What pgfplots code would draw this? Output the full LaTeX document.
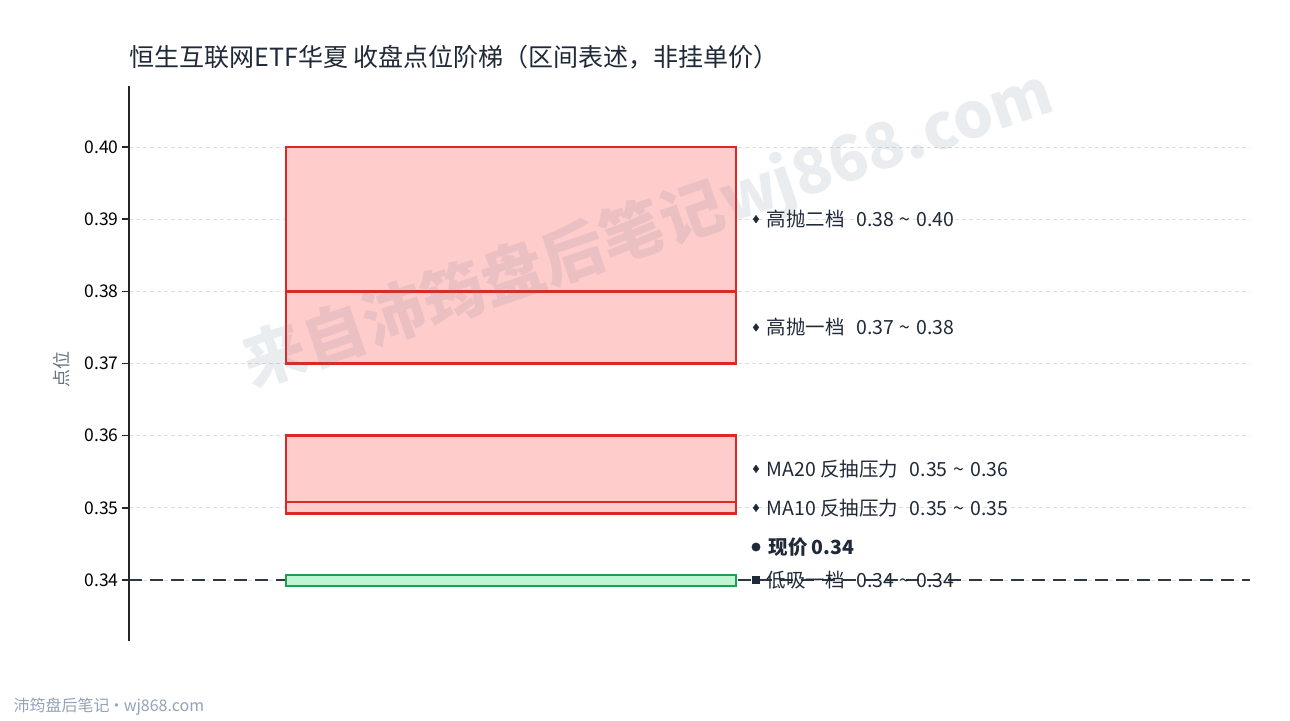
\documentclass[border=0pt]{standalone}
\usepackage{fontspec}
\setmainfont{Noto Sans CJK SC}
\usepackage{pgfplots}
\pgfplotsset{compat=1.18}
\definecolor{boxred}{RGB}{222,40,40}
\definecolor{fillred}{RGB}{255,204,204}
\definecolor{boxgreen}{RGB}{30,160,80}
\definecolor{fillgreen}{RGB}{190,245,210}
\definecolor{ink}{RGB}{31,41,55}
\definecolor{slate}{RGB}{45,55,72}
\definecolor{muted}{RGB}{107,114,128}
\definecolor{foot}{RGB}{148,163,184}
\definecolor{wmark}{RGB}{100,116,139}

\newcommand{\rng}[2]{#1\hspace{0.3em}\textasciitilde\hspace{0.3em}#2}

\begin{document}
\begin{tikzpicture}
\fill[white] (0,0) rectangle (1290pt,720pt);
\path[use as bounding box] (0,0) rectangle (1290pt,720pt);

\node[anchor=west, text=ink, font=\fontsize{25}{27}\selectfont]
  at (126pt,663pt) {恒生互联网ETF华夏 收盘点位阶梯（区间表述，非挂单价）};
\node[rotate=90, text=muted, font=\fontsize{18}{20}\selectfont]
  at (62pt,350pt) {点位};
\node[anchor=west, text=foot, font=\fontsize{16}{18}\selectfont]
  at (10pt,13pt) {沛筠盘后笔记\hspace{-0.05em}·\hspace{-0.05em}wj868.com};

\begin{axis}[
  at={(129pt,79pt)}, anchor=south west,
  scale only axis, width=1121pt, height=555pt,
  xmin=0, xmax=1121, ymin=0.33155, ymax=0.40845,
  axis x line=none, axis y line*=left,
  axis line style={line width=1.8pt, black!85, -},
  xtick=\empty,
  ytick={0.34,0.35,0.36,0.37,0.38,0.39,0.40},
  yticklabel style={/pgf/number format/.cd, fixed, fixed zerofill, precision=2,
    assume math mode=true},
  ticklabel style={font=\fontsize{17.5}{19}\selectfont, text=black},
  tick align=outside, major tick length=7pt,
  tick style={line width=1.6pt, black!85},
  ymajorgrids,
  grid style={dash pattern=on 4pt off 3pt, gray!25, line width=0.8pt},
  clip=false,
]
% current price line
\addplot[slate, line width=2.8pt, dash pattern=on 13pt off 8pt]
  coordinates {(0,0.34) (1121,0.34)};

% zones
\addplot[draw=boxred, fill=fillred, line width=2.5pt]
  coordinates {(157,0.38) (607,0.38) (607,0.40) (157,0.40)} -- cycle;
\addplot[draw=boxred, fill=fillred, line width=2.5pt]
  coordinates {(157,0.37) (607,0.37) (607,0.38) (157,0.38)} -- cycle;
\addplot[draw=boxred, fill=fillred, line width=2.5pt]
  coordinates {(157,0.3508) (607,0.3508) (607,0.36) (157,0.36)} -- cycle;
\addplot[draw=boxred, fill=fillred, line width=2.5pt]
  coordinates {(157,0.3492) (607,0.3492) (607,0.3508) (157,0.3508)} -- cycle;
\addplot[draw=boxgreen, fill=fillgreen, line width=2.5pt]
  coordinates {(157,0.3392) (607,0.3392) (607,0.3407) (157,0.3407)} -- cycle;

% label markers
\addplot[only marks, mark=diamond*, mark size=3.8pt, ink]
  coordinates {(627,0.39) (627,0.375) (627,0.3554) (627,0.35)};
\addplot[only marks, mark=*, mark size=4.2pt, ink]
  coordinates {(627,0.34457)};
\addplot[only marks, mark=square*, mark size=3.6pt, ink]
  coordinates {(627,0.3400)};

\tikzset{lbl/.style={anchor=west, text=ink, font=\fontsize{19.5}{21}\selectfont}}
\node[lbl] at (axis cs:634,0.39) {高抛二档\hspace{0.6em}\rng{0.38}{0.40}};
\node[lbl] at (axis cs:634,0.375) {高抛一档\hspace{0.6em}\rng{0.37}{0.38}};
\node[lbl] at (axis cs:634,0.3554) {MA20 反抽压力\hspace{0.6em}\rng{0.35}{0.36}};
\node[lbl] at (axis cs:634,0.35) {MA10 反抽压力\hspace{0.6em}\rng{0.35}{0.35}};
\node[lbl, font=\fontsize{19.5}{21}\selectfont\bfseries] at (axis cs:636,0.34457) {现价 0.34};
\node[lbl] at (axis cs:634,0.3400) {低吸一档\hspace{0.6em}\rng{0.34}{0.34}};
\end{axis}

% watermark
\node[rotate=19, text=wmark, opacity=0.13, font=\fontsize{63}{65}\selectfont\bfseries]
  at (648pt,490pt) {来自沛筠盘后笔记wj868.com};
\end{tikzpicture}
\end{document}
